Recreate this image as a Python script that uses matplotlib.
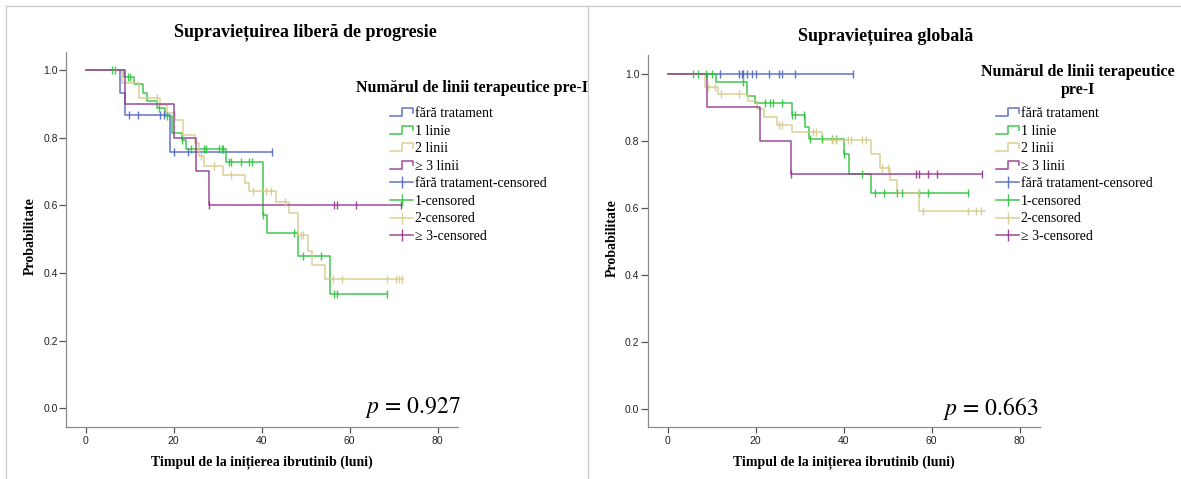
import numpy as np
import matplotlib
matplotlib.use('Agg')
import matplotlib.pyplot as plt
from matplotlib.lines import Line2D
from matplotlib.legend_handler import HandlerBase

plt.rcParams['mathtext.fontset'] = 'stix'

W, H = 1181, 479
SERIF = ['Liberation Serif', 'DejaVu Serif']
NARROW = ['Liberation Sans Narrow', 'Liberation Sans', 'DejaVu Sans']

#-group names and colours
groups = ['fără tratament', '1 linie', '2 linii', '≥ 3 linii']
cens_labels = ['fără tratament-censored', '1-censored', '2-censored', '≥ 3-censored']
colors = ['#4F67C2', '#2EC23E', '#D6CB8E', '#93358F']

#-progression free survival (left)
pfs_blue_t = [0, 7.9, 8.9, 19.1]
pfs_blue_s = [1.0, 0.933, 0.867, 0.759]
pfs_blue_end = 42.3
pfs_blue_c = [9.9, 12.0, 16.9, 17.7, 20.1, 23.2, 42.3]

pfs_green_t = [0, 8.7, 11.0, 13.0, 14.0, 16.2, 18.1, 19.6, 21.9, 22.9, 32.0, 40.3, 41.2, 48.2, 55.5]
pfs_green_s = [1.0, 0.978, 0.958, 0.931, 0.909, 0.887, 0.864, 0.815, 0.792, 0.766, 0.727, 0.572, 0.518, 0.451, 0.338]
pfs_green_end = 68.6
pfs_green_c = [5.9, 6.7, 9.7, 10.1, 16.6, 18.5, 22.0, 24.0, 27.0, 27.3, 30.4, 31.0, 31.3, 32.6, 33.1,
               35.2, 37.1, 37.9, 40.3, 47.3, 49.4, 53.4, 56.4, 57.2, 68.6]

pfs_tan_t = [0, 8.2, 12.1, 16.9, 18.5, 20.4, 22.1, 24.9, 25.8, 27.0, 31.2, 36.2, 37.1, 43.2, 46.3, 48.2, 50.5, 51.5, 54.5]
pfs_tan_s = [1.0, 0.961, 0.916, 0.897, 0.874, 0.852, 0.808, 0.784, 0.745, 0.715, 0.690, 0.666, 0.641, 0.609, 0.577,
             0.513, 0.464, 0.423, 0.381]
pfs_tan_end = 72.2
pfs_tan_c = [16.2, 26.1, 29.1, 33.1, 38.1, 41.0, 42.1, 45.2, 48.9, 49.5, 56.2, 58.3, 68.6, 70.5, 71.2, 72.0]

pfs_purple_t = [0, 8.9, 20.1, 25.1, 28.0]
pfs_purple_s = [1.0, 0.9, 0.8, 0.7, 0.6]
pfs_purple_end = 71.6
pfs_purple_c = [28.0, 56.4, 57.2, 61.4, 71.6]

#-overall survival (right)
os_blue_t = [0]
os_blue_s = [1.0]
os_blue_end = 42.2
os_blue_c = [11.9, 16.1, 16.8, 17.2, 18.0, 19.1, 20.1, 23.1, 25.2, 26.0, 29.0, 42.2]

os_green_t = [0, 11.0, 18.1, 19.9, 28.2, 31.1, 32.2, 40.1, 41.2, 46.3]
os_green_s = [1.0, 0.977, 0.934, 0.912, 0.878, 0.843, 0.805, 0.760, 0.701, 0.644]
os_green_end = 68.3
os_green_c = [5.8, 6.9, 8.8, 10.0, 17.0, 22.1, 23.3, 24.0, 26.0, 28.2, 29.0, 30.9, 32.4, 35.1, 37.4, 38.2,
              40.1, 44.2, 47.1, 49.2, 52.1, 53.2, 57.1, 59.2, 68.3]

os_tan_t = [0, 8.4, 11.5, 18.3, 20.2, 21.8, 24.8, 28.2, 35.1, 46.1, 48.3, 50.5, 52.1, 57.1]
os_tan_s = [1.0, 0.962, 0.940, 0.920, 0.895, 0.873, 0.848, 0.828, 0.803, 0.760, 0.720, 0.685, 0.645, 0.590]
os_tan_end = 72.0
os_tan_c = [9.2, 10.7, 12.0, 16.2, 25.2, 26.0, 33.1, 33.8, 37.4, 38.2, 40.9, 41.7, 44.2, 45.0, 48.8, 50.0,
            57.0, 58.0, 68.2, 70.1, 71.3]

os_purple_t = [0, 9.0, 20.9, 28.1]
os_purple_s = [1.0, 0.9, 0.8, 0.7]
os_purple_end = 71.5
os_purple_c = [28.1, 56.4, 57.2, 59.2, 61.3, 71.5]

pfs = [(pfs_blue_t, pfs_blue_s, pfs_blue_end, pfs_blue_c),
       (pfs_green_t, pfs_green_s, pfs_green_end, pfs_green_c),
       (pfs_tan_t, pfs_tan_s, pfs_tan_end, pfs_tan_c),
       (pfs_purple_t, pfs_purple_s, pfs_purple_end, pfs_purple_c)]
os_ = [(os_blue_t, os_blue_s, os_blue_end, os_blue_c),
       (os_green_t, os_green_s, os_green_end, os_green_c),
       (os_tan_t, os_tan_s, os_tan_end, os_tan_c),
       (os_purple_t, os_purple_s, os_purple_end, os_purple_c)]

xticks = [0, 20, 40, 60, 80]
yticks = [0.0, 0.2, 0.4, 0.6, 0.8, 1.0]


class StepHandler(HandlerBase):
    '''Legend key drawn as a small step, like the SPSS survival legend.'''
    def create_artists(self, legend, orig_handle, xdescent, ydescent, width, height, fontsize, trans):
        xs = np.array([0, 0.5, 0.5, 1.0, 1.0]) * width - xdescent
        ys = np.array([0.1, 0.1, 0.9, 0.9, 0.45]) * height - ydescent
        ln = Line2D(xs, ys, color=orig_handle.get_color(), lw=orig_handle.get_linewidth(),
                    alpha=orig_handle.get_alpha())
        ln.set_transform(trans)
        return [ln]


def fx(px):
    return px / W


def fy(py):
    return 1 - py / H


def plotKM(ax, curves, xlim, ylim):
    steps = []
    for (t, s, end, c), col in zip(curves, colors):
        t = np.array(t + [end])
        s = np.array(s + [s[-1]])
        ln, = ax.step(t, s, where='post', color=col, lw=1.1, alpha=0.9, zorder=2)
        idx = np.searchsorted(t[:-1], c, side='right') - 1
        ax.plot(c, s[idx], ls='none', marker='|', ms=6, mew=1.0, color=col, alpha=0.9, zorder=3)
        steps.append(ln)
    ax.set_xlim(xlim)
    ax.set_ylim(ylim)
    ax.set_xticks(xticks)
    ax.set_yticks(yticks)
    ax.set_yticklabels(['%.1f' % v for v in yticks])
    for sp in ['top', 'right']:
        ax.spines[sp].set_visible(False)
    for sp in ['left', 'bottom']:
        ax.spines[sp].set_color('#8a8a8a')
        ax.spines[sp].set_linewidth(0.9)
    ax.tick_params(axis='y', length=5, width=0.9, color='#555555', pad=1)
    ax.tick_params(axis='x', length=4.5, width=0.9, color='#555555', pad=2)
    for lab in ax.get_xticklabels() + ax.get_yticklabels():
        lab.set_family(NARROW)
        lab.set_fontsize(7.5)
        lab.set_color('#222222')
    return steps


fig = plt.figure(figsize=(W / 100., H / 100.), dpi=100)

axL = fig.add_axes([fx(66), fy(427.3), fx(392.3), (427.3 - 51.7) / H])
axR = fig.add_axes([fx(647.7), fy(427.3), fx(392.3), (427.3 - 55) / H])

stepsL = plotKM(axL, pfs, (-4.48, 84.7), (-0.056, 1.054))
stepsR = plotKM(axR, os_, (-4.55, 84.6), (-0.0546, 1.0567))

#-panel frames
for seg in [((6, 6), (6, H)), ((6, W), (6, 6)), ((588, 588), (6, H))]:
    fig.add_artist(Line2D([fx(seg[0][0]), fx(seg[0][1])], [fy(seg[1][0]), fy(seg[1][1])],
                          color='#c8c8c8', lw=0.9))

#-titles and labels
fig.text(fx(305), fy(32), 'Supraviețuirea liberă de progresie', family=SERIF, weight='bold',
         fontsize=13, ha='center', va='center')
fig.text(fx(886), fy(36), 'Supraviețuirea globală', family=SERIF, weight='bold',
         fontsize=13, ha='center', va='center')
for xc, yc in [(30, 236), (612, 238)]:
    fig.text(fx(xc), fy(yc), 'Probabilitate', family=SERIF, weight='bold', fontsize=10,
             rotation=90, ha='center', va='center')
for xc in [262, 844]:
    fig.text(fx(xc), fy(463), 'Timpul de la inițierea ibrutinib (luni)', family=SERIF,
             weight='bold', fontsize=10, ha='center', va='center')

fig.text(fx(461), fy(408), '$p$ = 0.927', family=['STIXGeneral', 'Liberation Serif'], fontsize=17,
         ha='right', va='center')
fig.text(fx(1038), fy(408), '$p$ = 0.663', family=['STIXGeneral', 'Liberation Serif'], fontsize=17,
         ha='right', va='center')

#-legends
fig.text(fx(356), fy(88), 'Numărul de linii terapeutice pre-I', family=SERIF, weight='bold',
         fontsize=11.5, ha='left', va='center')
fig.text(fx(1078), fy(81), 'Numărul de linii terapeutice\npre-I', family=SERIF, weight='bold',
         fontsize=11.5, ha='center', va='center', linespacing=1.2)

for steps, x0 in [(stepsL, 390), (stepsR, 996)]:
    cens = [Line2D([], [], color=c, lw=1.1, marker='|', ms=9, mew=1.0, alpha=0.9) for c in colors]
    hmap = {ln: StepHandler() for ln in steps}
    fig.legend(steps + cens, groups + cens_labels, loc='upper left',
               bbox_to_anchor=(fx(x0), fy(107)), frameon=False, handler_map=hmap,
               prop={'family': SERIF, 'size': 10}, borderpad=0, borderaxespad=0,
               labelspacing=0.33, handlelength=1.66, handletextpad=0.12, handleheight=0.7)

plt.savefig('out.png', dpi=100)
